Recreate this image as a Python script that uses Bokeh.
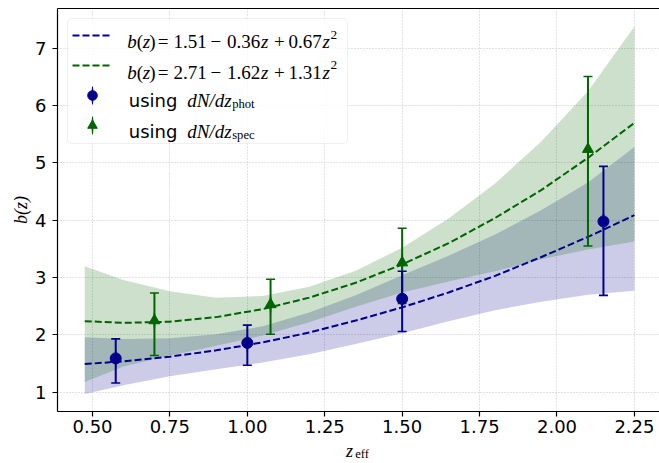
import math
from bokeh.plotting import figure
from bokeh.models import (Range1d, FixedTicker, LinearAxis, Legend, LegendItem, Label,
                          BoxAnnotation)
from bokeh.embed import file_html
from bokeh.resources import INLINE

# ---------------- data ----------------
z_grid = [0.475, 0.6, 0.75, 0.9, 1.05, 1.2, 1.35, 1.5, 1.65, 1.8, 1.95, 2.1, 2.25]
fit_phot = [1.49, 1.54, 1.62, 1.73, 1.87, 2.04, 2.25, 2.48, 2.74, 3.03, 3.36, 3.71, 4.09]
fit_spec = [2.24, 2.21, 2.23, 2.31, 2.45, 2.65, 2.91, 3.23, 3.60, 4.04, 4.53, 5.09, 5.70]
band_phot_lo = [0.97, 1.12, 1.28, 1.40, 1.52, 1.66, 1.84, 2.03, 2.24, 2.43, 2.58, 2.70, 2.77]
band_phot_hi = [1.96, 1.93, 1.94, 2.01, 2.15, 2.39, 2.69, 3.04, 3.38, 3.75, 4.18, 4.66, 5.28]
band_spec_lo = [1.18, 1.45, 1.64, 1.81, 1.99, 2.22, 2.49, 2.74, 2.93, 3.11, 3.32, 3.49, 3.63]
band_spec_hi = [3.20, 2.96, 2.76, 2.65, 2.68, 2.84, 3.12, 3.52, 4.03, 4.64, 5.38, 6.25, 7.38]

z_phot = [0.575, 1.0, 1.5, 2.15]
b_phot = [1.59, 1.86, 2.63, 3.98]
lo_phot = [1.16, 1.47, 2.06, 2.69]
hi_phot = [1.93, 2.17, 3.11, 4.94]

z_spec = [0.70, 1.075, 1.50, 2.10]
b_spec = [2.25, 2.53, 3.26, 5.24]
lo_spec = [1.64, 2.01, 2.55, 3.55]
hi_spec = [2.73, 2.97, 3.86, 6.51]

x_ticks = [0.5, 0.75, 1.0, 1.25, 1.5, 1.75, 2.0, 2.25]
x_tick_labels = ["0.50", "0.75", "1.00", "1.25", "1.50", "1.75", "2.00", "2.25"]
y_ticks = [1, 2, 3, 4, 5, 6, 7]
y_tick_labels = ["1", "2", "3", "4", "5", "6", "7"]

fit_phot_coefs = ["1.51", "0.36", "0.67"]
fit_spec_coefs = ["2.71", "1.62", "1.31"]

# ---------------- styling ----------------
BLUE = "#00008b"
GREEN = "#006400"
SERIF = "Liberation Serif"
SANS = "DejaVu Sans"
FS = "18px"
FS_MATH = "19px"
FS_SUB = "12.6px"
FS_SUP = "13.3px"

X_RANGE = (0.387, 2.331)
Y_RANGE = (0.663, 7.696)
FL, FB, FR = 57, 411, 659  # frame left / bottom / right in canvas pixels


def canvas_to_x(cx):
    # horizontal canvas pixel -> data x (used only to place axis-label text)
    return X_RANGE[0] + (cx - FL) * (X_RANGE[1] - X_RANGE[0]) / (FR - FL)


p = figure(width=659, height=463,
           x_range=Range1d(*X_RANGE), y_range=Range1d(*Y_RANGE),
           output_backend="svg", toolbar_location=None,
           min_border_left=FL, min_border_right=0, min_border_top=8,
           min_border_bottom=463 - FB)
p.outline_line_color = None
p.background_fill_color = "white"
p.border_fill_color = "white"

xa = p.below[0]
ya = p.left[0]
for ax in (xa, ya):
    ax.axis_line_color = "black"
    ax.axis_line_width = 1.2
    ax.major_tick_line_color = "black"
    ax.major_tick_line_width = 1.2
    ax.major_tick_out = 5
    ax.major_tick_in = 0
    ax.minor_tick_line_color = None
    ax.major_label_text_font = SANS
    ax.major_label_text_font_size = FS
    ax.major_label_text_color = "black"
xa.ticker = FixedTicker(ticks=x_ticks)
xa.major_label_overrides = {t: l for t, l in zip(x_ticks, x_tick_labels)}
xa.major_label_standoff = 3
ya.ticker = FixedTicker(ticks=y_ticks)
ya.major_label_overrides = {t: l for t, l in zip(y_ticks, y_tick_labels)}
ya.major_label_standoff = 6
ya.axis_label = "b(z)"
ya.axis_label_text_font = SERIF
ya.axis_label_text_font_style = "italic"
ya.axis_label_text_font_size = FS
ya.axis_label_text_color = "black"
ya.axis_label_standoff = 1

# x-axis label "z_eff": two tick-less axes carrying the text pieces
zx = canvas_to_x(349.0)
effx = canvas_to_x(361.5)
ax_z = LinearAxis(ticker=FixedTicker(ticks=[zx]), major_label_overrides={zx: "z"},
                  axis_line_color=None, major_tick_line_color=None, minor_tick_line_color=None,
                  major_tick_out=0, major_tick_in=0, minor_tick_out=0, minor_tick_in=0,
                  major_label_standoff=5, major_label_text_font=SERIF,
                  major_label_text_font_style="italic", major_label_text_font_size=FS,
                  major_label_text_color="black")
ax_eff = LinearAxis(ticker=FixedTicker(ticks=[effx]), major_label_overrides={effx: "eff"},
                    axis_line_color=None, major_tick_line_color=None, minor_tick_line_color=None,
                    major_tick_out=0, major_tick_in=0, minor_tick_out=0, minor_tick_in=0,
                    major_label_standoff=-17, major_label_text_font=SERIF,
                    major_label_text_font_size=FS_SUB, major_label_text_color="black")
p.add_layout(ax_z, "below")
p.add_layout(ax_eff, "below")

# top spine
top = LinearAxis(ticker=FixedTicker(ticks=[]), major_tick_out=0, major_tick_in=0,
                 minor_tick_out=0, minor_tick_in=0, major_label_text_font_size="0px",
                 axis_line_color="black", axis_line_width=1.2)
p.add_layout(top, "above")

p.grid.grid_line_color = "#c4c4c4"
p.grid.grid_line_dash = "1 2"
p.grid.grid_line_width = 1

# bands
p.varea(x=z_grid, y1=band_phot_lo, y2=band_phot_hi, fill_color=BLUE, fill_alpha=0.2)
p.varea(x=z_grid, y1=band_spec_lo, y2=band_spec_hi, fill_color=GREEN, fill_alpha=0.2)

# fits
l_phot = p.line(z_grid, fit_phot, line_color=BLUE, line_width=2, line_dash="7 3")
l_spec = p.line(z_grid, fit_spec, line_color=GREEN, line_width=2, line_dash="7 3")


def errorbars(zs, bs, los, his, color, marker, msize):
    p.segment(x0=zs, y0=los, x1=zs, y1=his, line_color=color, line_width=2)
    p.scatter(x=zs + zs, y=los + his, marker="dash", size=9, line_color=color, line_width=1.6)
    bar = p.ellipse(x=zs, y=bs, width=2, height=20, width_units="screen",
                    height_units="screen", fill_color=color, line_color=None)
    pts = p.scatter(x=zs, y=bs, marker=marker, size=msize, fill_color=color, line_color=color)
    return bar, pts


bar_spec, pts_spec = errorbars(z_spec, b_spec, lo_spec, hi_spec, GREEN, "triangle", 11)
bar_phot, pts_phot = errorbars(z_phot, b_phot, lo_phot, hi_phot, BLUE, "circle", 11)

# legend frame (drawn as a box so the legend texts can sit on top of it)
LG_L, LG_T, LG_R, LG_B = 67, 18, 347, 143
p.add_layout(BoxAnnotation(left=LG_L - FL, right=LG_R - FL, top=FB - LG_T, bottom=FB - LG_B,
                           left_units="screen", right_units="screen",
                           top_units="screen", bottom_units="screen",
                           fill_color="white", fill_alpha=0.8,
                           line_color="#cccccc", line_width=1, border_radius=4))

legend = Legend(items=[
    LegendItem(label=" ", renderers=[l_phot]),
    LegendItem(label=" ", renderers=[l_spec]),
    LegendItem(label=" ", renderers=[bar_phot, pts_phot]),
    LegendItem(label=" ", renderers=[bar_spec, pts_spec]),
], location="top_left", margin=15, padding=0, spacing=6,
    glyph_height=24, glyph_width=40, label_height=24, label_width=215,
    label_standoff=15, border_line_color=None,
    background_fill_alpha=0.0, label_text_font_size=FS)
p.add_layout(legend)


def txt(cx, cy, text, font=SERIF, style="normal", size=FS_MATH):
    p.add_layout(Label(x=cx - FL, y=FB - cy, x_units="screen", y_units="screen",
                       text=text, text_font=font, text_font_style=style,
                       text_font_size=size, text_color="black",
                       text_align="left", text_baseline="alphabetic"))


def formula_row(base, coefs):
    txt(126.7, base, "b", style="italic")
    txt(136.2, base, "(")
    txt(142.2, base, "z", style="italic")
    txt(148.7, base, ")")
    txt(157.3, base, "=")
    txt(173.0, base, coefs[0])
    txt(210.0, base, "\u2212")
    txt(226.5, base, coefs[1])
    txt(260.5, base, "z", style="italic")
    txt(273.5, base, "+")
    txt(288.0, base, coefs[2])
    txt(322.0, base, "z", style="italic")
    txt(330.0, base - 7, "2", size=FS_SUP)


def using_row(base, sub):
    txt(128.3, base, "using", font=SANS, size=FS)
    txt(186.7, base, "dN/dz", style="italic")
    txt(231.7, base + 3.5, sub, size=FS_SUB)


formula_row(41.0, fit_phot_coefs)
formula_row(71.5, fit_spec_coefs)
using_row(100.0, "phot")
using_row(130.7, "spec")

open("out.html", "w").write(file_html(p, INLINE))
